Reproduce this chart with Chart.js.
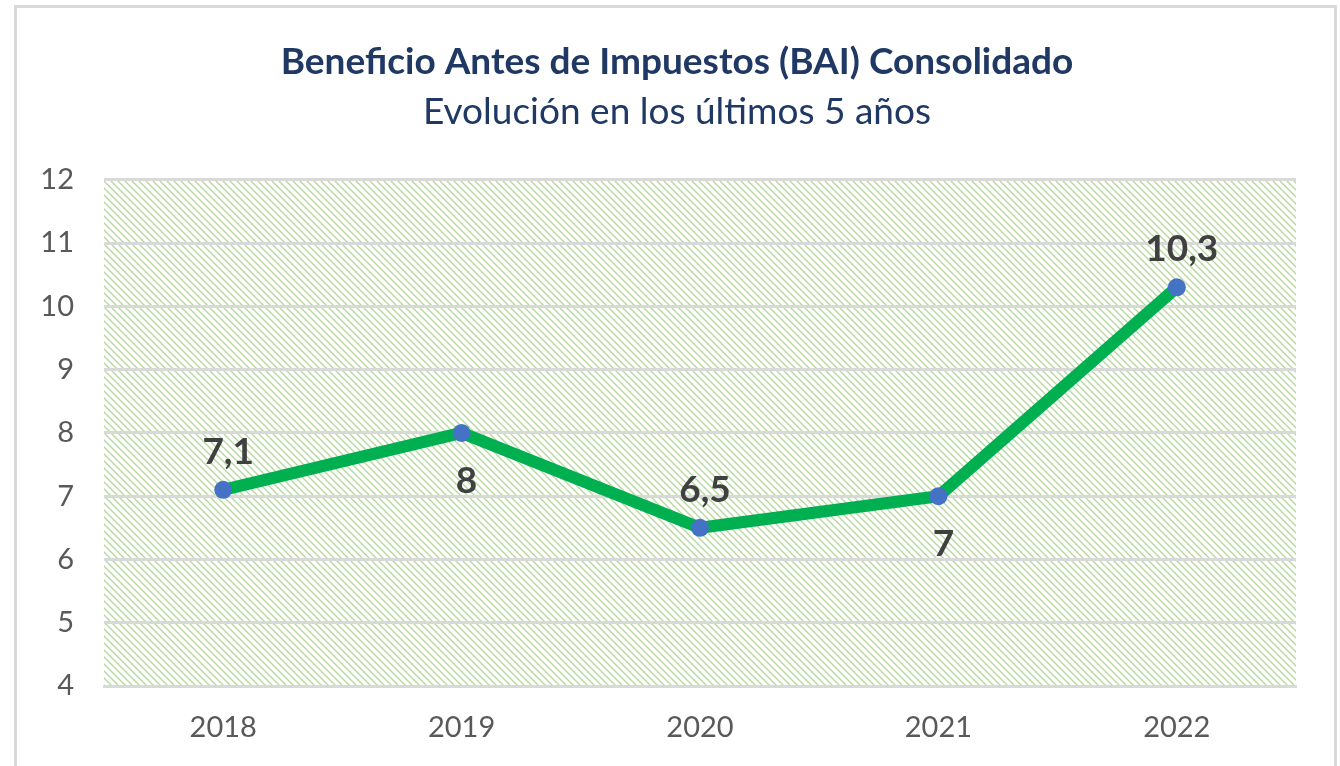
<!DOCTYPE html>
<html lang="es">
  <head>
    <meta charset="UTF-8" />
    <title>BAI Consolidado</title>
    <script src="https://cdn.jsdelivr.net/npm/chart.js"></script>
    <style>
      html,
      body {
        margin: 0;
        padding: 0;
        background: #ffffff;
        overflow: hidden;
      }
      /* grey frame around the chart, bottom edge runs off the page */
      #frame {
        position: absolute;
        left: 14px;
        top: 5px;
        width: 1317px;
        height: 800px;
        border: 3px solid #d9d9d9;
      }
      #wrap {
        position: absolute;
        left: 0;
        top: 0;
        width: 1340px;
        height: 766px;
      }
    </style>
  </head>
  <body>
    <div id="frame"></div>
    <div id="wrap"><canvas id="baiChart"></canvas></div>

    <script>
      // data
      var years = ["2018", "2019", "2020", "2021", "2022"];
      var bai = [7.1, 8, 6.5, 7, 10.3];
      var labelSide = ["above", "below", "above", "below", "above"];
      var yMin = 4;
      var yMax = 12;
      var yStep = 1;

      // diagonal green hatch for the plot area
      function makeHatch() {
        var s = 7;
        var c = document.createElement("canvas");
        c.width = s;
        c.height = s;
        var g = c.getContext("2d");
        g.strokeStyle = "#b3d89a";
        g.lineWidth = 1.3;
        g.beginPath();
        g.moveTo(-1, -1);
        g.lineTo(s + 1, s + 1);
        g.moveTo(-1, s - 1);
        g.lineTo(1, s + 1);
        g.moveTo(s - 1, -1);
        g.lineTo(s + 1, 1);
        g.stroke();
        return g.createPattern(c, "repeat");
      }

      var hatchBg = {
        id: "hatchBg",
        beforeDraw: function (chart) {
          var a = chart.chartArea;
          var ctx = chart.ctx;
          ctx.save();
          ctx.fillStyle = makeHatch();
          ctx.fillRect(a.left, a.top, a.right - a.left, a.bottom - a.top);
          ctx.restore();
        },
      };

      // value labels above / below the points
      var valueLabels = {
        id: "valueLabels",
        afterDatasetsDraw: function (chart) {
          var ctx = chart.ctx;
          var pts = chart.getDatasetMeta(0).data;
          ctx.save();
          ctx.font = "bold 37px Lato";
          ctx.fillStyle = "#404040";
          ctx.textAlign = "center";
          ctx.textBaseline = "middle";
          pts.forEach(function (p, i) {
            var txt = String(bai[i]).replace(".", ",");
            var dy = labelSide[i] == "above" ? -38 : 48;
            ctx.fillText(txt, p.x + 5, p.y + dy);
          });
          ctx.restore();
        },
      };

      var ctx = document.getElementById("baiChart").getContext("2d");
      var baiChart = new Chart(ctx, {
        type: "line",
        data: {
          labels: years,
          datasets: [
            {
              data: bai,
              borderColor: "#00b050",
              borderWidth: 12,
              tension: 0,
              pointRadius: 9,
              pointHoverRadius: 9,
              pointBackgroundColor: "#4472c4",
              pointBorderWidth: 0,
            },
          ],
        },
        options: {
          responsive: true,
          maintainAspectRatio: false,
          animation: false,
          layout: { padding: { top: 0, left: 36, right: 22, bottom: 0 } },
          plugins: {
            legend: { display: false },
            tooltip: { enabled: false },
            title: {
              display: true,
              text: "Beneficio Antes de Impuestos (BAI) Consolidado",
              color: "#1f3864",
              font: { family: "Lato", size: 37, weight: "bold", lineHeight: 1.2 },
              padding: { top: 40, bottom: 0 },
            },
            subtitle: {
              display: true,
              text: "Evolución en los últimos 5 años",
              color: "#1f3864",
              font: { family: "Lato", size: 37, weight: "normal", lineHeight: 1.2 },
              padding: { top: 5, bottom: 46 },
            },
          },
          scales: {
            x: {
              offset: true,
              grid: { display: false, drawTicks: false },
              border: { display: true, color: "#d9d9d9", width: 3 },
              ticks: {
                color: "#595959",
                font: { family: "Lato", size: 29 },
                padding: 24,
                maxRotation: 0,
              },
              afterFit: function (scale) {
                scale.height = 80;
              },
            },
            y: {
              min: yMin,
              max: yMax,
              grid: { color: "#d9d9d9", lineWidth: 3, drawTicks: false },
              border: { display: false },
              ticks: {
                stepSize: yStep,
                color: "#595959",
                font: { family: "Lato", size: 29 },
                padding: 30,
              },
              afterFit: function (scale) {
                scale.width = 68;
              },
            },
            // empty right-hand axis, only keeps the plot clear of the frame
            yRight: {
              position: "right",
              min: yMin,
              max: yMax,
              grid: { display: false, drawTicks: false },
              border: { display: false },
              ticks: { display: false },
              afterFit: function (scale) {
                scale.width = 22;
              },
            },
          },
        },
        plugins: [hatchBg, valueLabels],
      });
    </script>
  </body>
</html>
